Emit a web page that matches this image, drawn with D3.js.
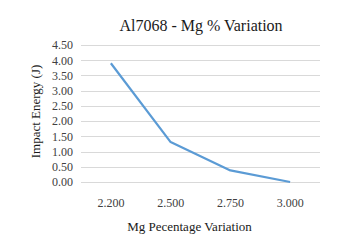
<!DOCTYPE html>
<html>
<head>
<meta charset="utf-8">
<script src="https://cdn.jsdelivr.net/npm/d3@7"></script>
<style>
  body { margin: 0; background: #fff; }
</style>
</head>
<body>
<svg id="chart"></svg>
<script>
const categories = ["2.200", "2.500", "2.750", "3.000"];
const impactEnergy = [3.9, 1.31, 0.38, 0.0];
const yTicks = [0, 0.5, 1, 1.5, 2, 2.5, 3, 3.5, 4, 4.5];

const serif = "'Liberation Serif', 'Tinos', 'Times New Roman', 'DejaVu Serif', serif";
const width = 341;
const height = 247;
const margin = { top: 45, right: 21, bottom: 65, left: 81 };
const innerW = width - margin.left - margin.right;
const innerH = height - margin.top - margin.bottom;

const svg = d3
  .select("#chart")
  .attr("width", width)
  .attr("height", height)
  .style("font-family", serif);

const g = svg
  .append("g")
  .attr("transform", `translate(${margin.left},${margin.top})`);

const xScale = d3.scaleBand().domain(categories).range([0, innerW]);
const yScale = d3.scaleLinear().domain([0, 4.5]).range([innerH, 0]);

// gridlines
g.selectAll(".grid")
  .data(yTicks)
  .enter()
  .append("line")
  .attr("class", "grid")
  .attr("x1", 0)
  .attr("x2", innerW)
  .attr("y1", (d) => Math.round(yScale(d)) + 0.5)
  .attr("y2", (d) => Math.round(yScale(d)) + 0.5)
  .attr("stroke", "#d9d9d9")
  .attr("stroke-width", 1);

// y axis labels
const yAxis = g
  .append("g")
  .call(d3.axisLeft(yScale).tickValues(yTicks).tickFormat(d3.format(".2f")).tickSize(0).tickPadding(8))
  .attr("font-size", 12);
yAxis.select(".domain").remove();
yAxis.selectAll("text").attr("fill", "#404040").style("font-family", serif);

// x axis labels
const xAxis = g
  .append("g")
  .attr("transform", `translate(0,${innerH})`)
  .call(d3.axisBottom(xScale).tickSize(0).tickPadding(16))
  .attr("font-size", 12);
xAxis.select(".domain").remove();
xAxis.selectAll("text").attr("fill", "#404040").style("font-family", serif);

// line
const line = d3
  .line()
  .x((d, i) => xScale(categories[i]) + xScale.bandwidth() / 2)
  .y((d) => yScale(d));

g.append("path")
  .datum(impactEnergy)
  .attr("fill", "none")
  .attr("stroke", "#5b9bd5")
  .attr("stroke-width", 2.2)
  .attr("stroke-linejoin", "round")
  .attr("d", line);

// title
svg
  .append("text")
  .attr("x", 201)
  .attr("y", 31)
  .attr("text-anchor", "middle")
  .attr("font-size", 16)
  .attr("fill", "#1a1a1a")
  .text("Al7068 - Mg % Variation");

// axis titles
svg
  .append("text")
  .attr("x", margin.left + innerW / 2 - 11)
  .attr("y", 231)
  .attr("text-anchor", "middle")
  .attr("font-size", 13)
  .attr("fill", "#1a1a1a")
  .text("Mg Pecentage Variation");

svg
  .append("text")
  .attr("transform", `translate(40,${margin.top + innerH / 2 - 2}) rotate(-90)`)
  .attr("text-anchor", "middle")
  .attr("font-size", 13)
  .attr("fill", "#1a1a1a")
  .text("Impact Energy (J)");
</script>
</body>
</html>
